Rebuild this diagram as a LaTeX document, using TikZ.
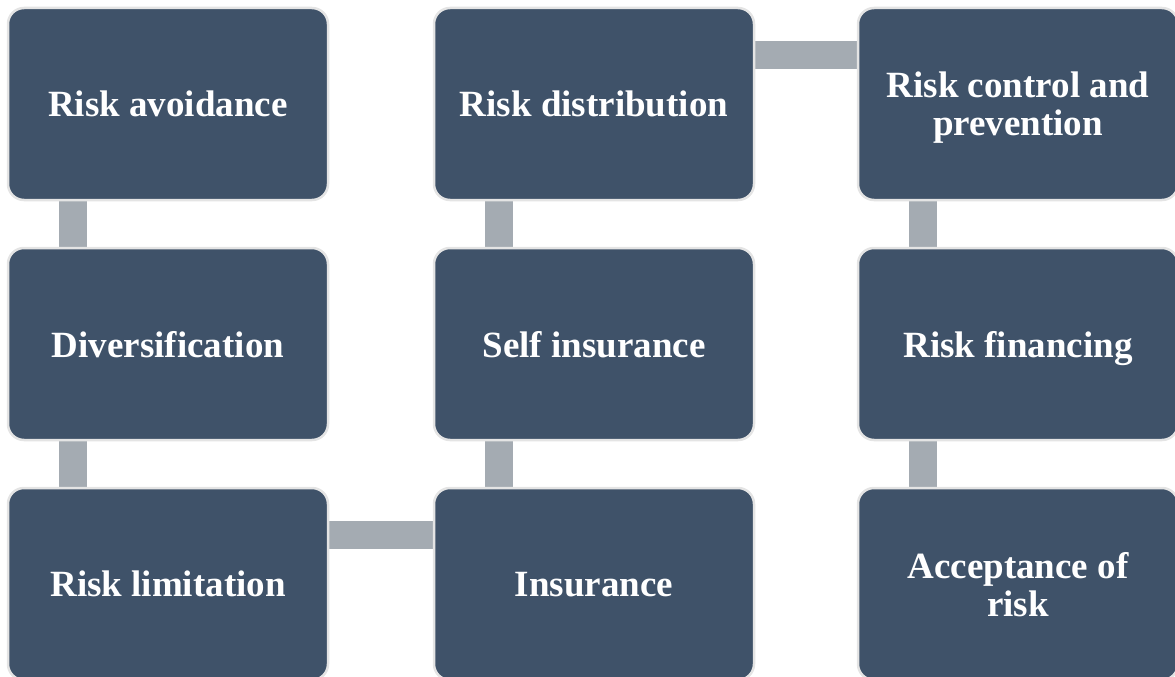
\documentclass[tikz,border=0pt]{standalone}
\usepackage{fontspec}
\setmainfont{Liberation Serif}
\usepackage{xcolor}
\usetikzlibrary{positioning, backgrounds}

\definecolor{boxfill}{HTML}{3F5269}
\definecolor{boxline}{HTML}{E4E4E4}
\definecolor{barfill}{HTML}{A4ABB2}

\begin{document}
\begin{tikzpicture}[
    x=1pt, y=-1pt,
    box/.style={rectangle, draw=boxline, line width=2.5pt, rounded corners=16pt, fill=boxfill,
        minimum width=320pt, minimum height=192pt, align=center, text=white, text depth=0pt,
        font=\fontsize{37}{38}\selectfont\bfseries},
    bar/.style={draw=barfill, line width=28pt},
]
\useasboundingbox (0,0) rectangle (1175,677);

% First column
\node[box] (avoid) at (168,104) {Risk avoidance};
\node[box] (divers) at (168,344) {Diversification};
\node[box] (limit) at (168,584) {Risk limitation};

% Second column
\node[box] (distrib) at (594,104) {Risk distribution};
\node[box] (selfins) at (594,344) {Self insurance};
\node[box] (insur) at (594,584) {Insurance};

% Third column
\node[box] (control) at (1018,104) {Risk control and\\prevention};
\node[box] (finance) at (1018,344) {Risk financing};
\node[box] (accept) at (1018,584) {Acceptance of\\risk};

% Connecting bars behind the boxes
\begin{scope}[on background layer]
\draw[bar] ([xshift=66pt]avoid.south west) -- ([xshift=66pt]divers.north west);
\draw[bar] ([xshift=66pt]divers.south west) -- ([xshift=66pt]limit.north west);
\draw[bar] ([yshift=-48pt]limit.north east) -- ([yshift=-48pt]insur.north west);
\draw[bar] ([xshift=66pt]insur.north west) -- ([xshift=66pt]selfins.south west);
\draw[bar] ([xshift=66pt]selfins.north west) -- ([xshift=66pt]distrib.south west);
\draw[bar] ([yshift=-48pt]distrib.north east) -- ([yshift=-48pt]control.north west);
\draw[bar] ([xshift=66pt]control.south west) -- ([xshift=66pt]finance.north west);
\draw[bar] ([xshift=66pt]finance.south west) -- ([xshift=66pt]accept.north west);
\end{scope}

\end{tikzpicture}
\end{document}
